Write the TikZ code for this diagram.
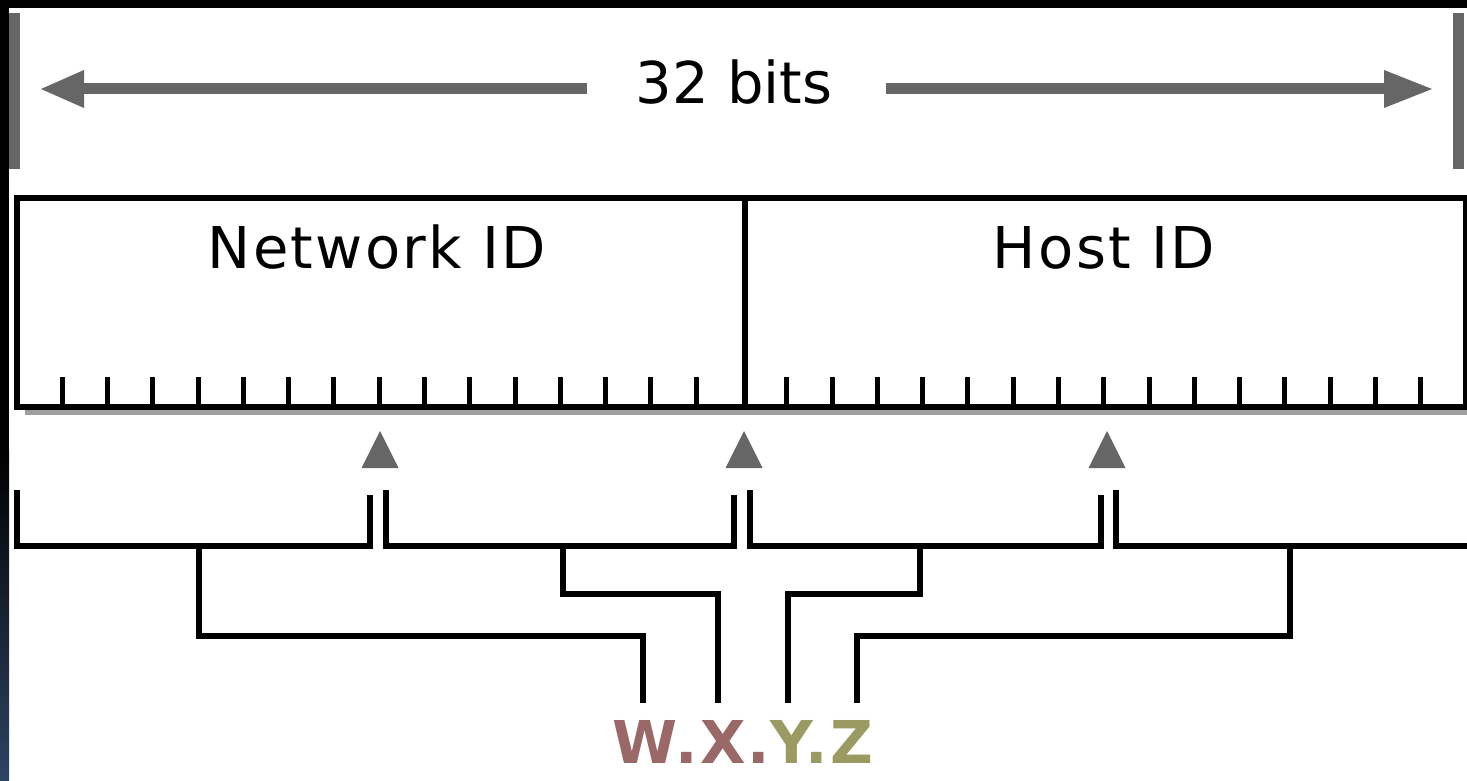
\documentclass[tikz,border=0pt]{standalone}
\usepackage{fontspec}
\setmainfont{DejaVu Sans}
\newfontfamily\labelfont[LetterSpace=4]{DejaVu Sans}
\newfontfamily\addrfont[LetterSpace=4]{DejaVu Sans Bold}
\definecolor{bargray}{HTML}{666666}
\definecolor{shadowgray}{HTML}{9E9E9E}
\definecolor{stripblue}{HTML}{2E4463}
\definecolor{wxcolor}{HTML}{9A6866}
\definecolor{yzcolor}{HTML}{9A9A62}
\begin{document}
\begin{tikzpicture}[x=0.5pt,y=-0.5pt,
  wire/.style={line width=3pt,black,line join=miter,line cap=butt},
  tick/.style={line width=2.5pt,black},
  ruler/.style={line width=5.5pt,bargray},
  marker/.style={fill=bargray},
  fieldlabel/.style={font=\labelfont\fontsize{28.8}{32}\selectfont,anchor=base,inner sep=0pt},
  widthlabel/.style={font=\fontsize{28.8}{32}\selectfont,anchor=base,inner sep=0pt},
  addrlabel/.style={font=\addrfont\fontsize{29.5}{32}\selectfont,anchor=base,inner sep=0pt}]
\useasboundingbox (0,0) rectangle (1467,781);

% frame of the window
\fill[white] (0,0) rectangle (1467,781);
\fill[black] (0,0) rectangle (1467,8);
\fill[black] (0,0) rectangle (9,451);
\shade[top color=black,bottom color=stripblue] (0,450) rectangle (9,781);

% width indicator: end bars, ruler line and arrow heads
\fill[bargray] (9,13) rectangle (20,169);
\fill[bargray] (1453,13) rectangle (1464,169);
\node[widthlabel] (bits) at (734,104) {32 bits};
\coordinate (lstart) at (587,88.5);
\coordinate (lend) at (80,88.5);
\coordinate (rstart) at (886,88.5);
\coordinate (rend) at (1388,88.5);
\draw[ruler] (lstart) -- (lend);
\draw[ruler] (rstart) -- (rend);
\fill[bargray] (41,89) -- (84,70) -- (84,108) -- cycle;
\fill[bargray] (1432,89) -- (1384,70) -- (1384,108) -- cycle;

% address field with bit ticks
\fill[shadowgray] (25,409) rectangle (1467,415);
\foreach \k in {1,...,15,17,18,...,31}
  \draw[tick] ({17+\k*45.28},377) -- ({17+\k*45.28},406);
\draw[wire] (744.5,198) -- (744.5,406);
\draw[wire] (17,198) rectangle (1465.5,406.5);
\node[fieldlabel] (net) at (377,268) {Network ID};
\node[fieldlabel] (host) at (1104,268) {Host ID};

% octet boundary markers
\foreach \c in {380,744,1107}
  \fill[bargray] (\c,431) -- ({\c+18.5},468) -- ({\c-18.5},468) -- cycle;

% octet brackets
\coordinate (o1a) at (17,490);  \coordinate (o1b) at (370,495);
\coordinate (o2a) at (386,490); \coordinate (o2b) at (734,495);
\coordinate (o3a) at (750,490); \coordinate (o3b) at (1101,495);
\coordinate (o4a) at (1116,490); \coordinate (o4b) at (1470,546);
\draw[wire] (o1a) |- (o1b |- 0,546) -- (o1b);
\draw[wire] (o2a) |- (o2b |- 0,546) -- (o2b);
\draw[wire] (o3a) |- (o3b |- 0,546) -- (o3b);
\draw[wire] (o4a) |- (o4b);

% dotted-decimal address and the leads to each octet
\node[addrlabel] (addr) at (743,763)
  {{\color{wxcolor}W.X.}{\color{yzcolor}Y.Z}};
\coordinate (w) at (643,703);
\coordinate (x) at (717.5,703);
\coordinate (y) at (788,703);
\coordinate (z) at (857,703);
\coordinate (s1) at (199,546);
\coordinate (s2) at (563,546);
\coordinate (s3) at (920,546);
\coordinate (s4) at (1290,546);
\draw[wire] (s1) |- (w |- 0,636) -- (w);
\draw[wire] (s2) |- (x |- 0,594) -- (x);
\draw[wire] (s3) |- (y |- 0,594) -- (y);
\draw[wire] (s4) |- (z |- 0,636) -- (z);
\end{tikzpicture}
\end{document}
